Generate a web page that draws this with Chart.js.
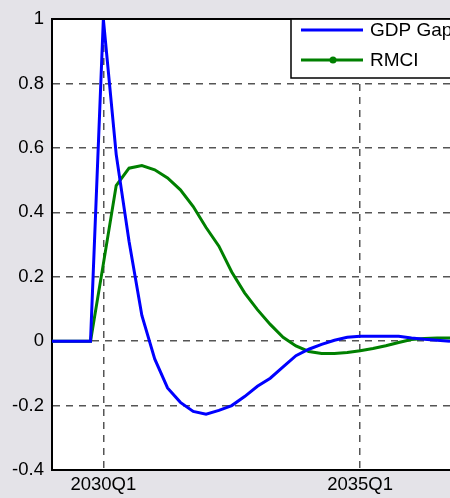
<!DOCTYPE html>
<html>
<head>
    <title>GDP Gap and RMCI</title>
    <script src="https://cdn.jsdelivr.net/npm/chart.js"></script>
    <style>
        html, body { margin: 0; padding: 0; overflow: hidden; background: rgb(228, 227, 232); }
    </style>
</head>
<body>
    <canvas id="gapChart" width="450" height="498"></canvas>

    <script>
        // Quarters shown on the x axis
        const quarters = [
            '2029Q1', '2029Q2', '2029Q3', '2029Q4',
            '2030Q1', '2030Q2', '2030Q3', '2030Q4',
            '2031Q1', '2031Q2', '2031Q3', '2031Q4',
            '2032Q1', '2032Q2', '2032Q3', '2032Q4',
            '2033Q1', '2033Q2', '2033Q3', '2033Q4',
            '2034Q1', '2034Q2', '2034Q3', '2034Q4',
            '2035Q1', '2035Q2', '2035Q3', '2035Q4',
            '2036Q1', '2036Q2', '2036Q3', '2036Q4'
        ];
        const labeledQuarters = ['2030Q1', '2035Q1'];

        // Series values
        const gdpGap = [
            0, 0, 0, 0,
            1.0, 0.58, 0.31, 0.08,
            -0.055, -0.145, -0.19, -0.218,
            -0.227, -0.215, -0.2, -0.172,
            -0.14, -0.115, -0.08, -0.045,
            -0.025, -0.01, 0.003, 0.012,
            0.015, 0.015, 0.015, 0.015,
            0.01, 0.006, 0.003, 0.0
        ];
        const rmci = [
            0, 0, 0, 0,
            0.24, 0.483, 0.537, 0.545,
            0.532, 0.507, 0.47, 0.418,
            0.353, 0.295, 0.215, 0.15,
            0.098, 0.052, 0.012, -0.015,
            -0.032, -0.038, -0.038, -0.035,
            -0.03, -0.023, -0.014, -0.004,
            0.005, 0.008, 0.01, 0.01
        ];

        const yMin = -0.4;
        const yMax = 1;
        const yStep = 0.2;

        const fontFamily = '"Liberation Sans", Arial, sans-serif';

        // Gray figure background, white plot area, black top line
        const frame = {
            id: 'frame',
            beforeDraw(chart) {
                const c = chart.ctx;
                const a = chart.chartArea;
                c.save();
                c.fillStyle = 'rgb(228, 227, 232)';
                c.fillRect(0, 0, chart.width, chart.height);
                c.fillStyle = '#ffffff';
                c.fillRect(a.left, a.top, chart.width - a.left, a.bottom - a.top);
                c.restore();
            },
            afterDraw(chart) {
                const c = chart.ctx;
                const a = chart.chartArea;
                c.save();
                c.strokeStyle = '#000000';
                c.lineWidth = 2;
                c.beginPath();
                c.moveTo(a.left, a.top);
                c.lineTo(chart.width, a.top);
                c.stroke();
                c.restore();
            }
        };

        // Boxed legend in the upper right, like the original figure
        const boxLegend = {
            id: 'boxLegend',
            afterDraw(chart) {
                const c = chart.ctx;
                const a = chart.chartArea;
                const left = 291, top = a.top, bottom = 78;
                c.save();
                c.fillStyle = '#ffffff';
                c.fillRect(left, top, chart.width - left + 5, bottom - top);
                c.strokeStyle = '#000000';
                c.lineWidth = 1.5;
                c.strokeRect(left, top, chart.width - left + 5, bottom - top);

                chart.data.datasets.forEach((ds, i) => {
                    const y = 30 + i * 30;
                    c.strokeStyle = ds.borderColor;
                    c.lineWidth = 3;
                    c.beginPath();
                    c.moveTo(301, y);
                    c.lineTo(363, y);
                    c.stroke();
                    if (ds.legendMarker) {
                        c.fillStyle = ds.borderColor;
                        c.beginPath();
                        c.arc(333, y, 3.5, 0, Math.PI * 2);
                        c.fill();
                    }
                    c.fillStyle = '#000000';
                    c.font = '19px ' + fontFamily;
                    c.textBaseline = 'middle';
                    c.textAlign = 'left';
                    c.fillText(ds.label, 370, y + 1);
                });
                c.restore();
            }
        };

        const ctx = document.getElementById('gapChart').getContext('2d');
        const chart = new Chart(ctx, {
            type: 'line',
            data: {
                labels: quarters,
                datasets: [
                    {
                        label: 'GDP Gap',
                        data: gdpGap,
                        borderColor: '#0000ff',
                        borderWidth: 3,
                        pointRadius: 0,
                        tension: 0,
                        fill: false
                    },
                    {
                        label: 'RMCI',
                        data: rmci,
                        borderColor: '#008000',
                        borderWidth: 3,
                        pointRadius: 0,
                        tension: 0,
                        fill: false,
                        legendMarker: true
                    }
                ]
            },
            options: {
                responsive: false,
                animation: false,
                layout: { padding: { top: 14, right: 0, left: 0, bottom: 0 } },
                plugins: {
                    legend: { display: false },
                    tooltip: { enabled: false }
                },
                scales: {
                    x: {
                        type: 'category',
                        offset: false,
                        afterFit(scale) {
                            scale.height = 28;
                            scale.paddingRight = 0;
                            scale.paddingLeft = 0;
                        },
                        ticks: {
                            autoSkip: false,
                            maxRotation: 0,
                            padding: 4,
                            color: '#000000',
                            font: { family: fontFamily, size: 18.5 },
                            callback(value, index) {
                                const q = quarters[index];
                                return labeledQuarters.includes(q) ? q : '';
                            }
                        },
                        grid: {
                            drawTicks: false,
                            lineWidth: 1.5,
                            color(c) {
                                const q = quarters[c.index];
                                return labeledQuarters.includes(q) ? '#555555' : 'rgba(0,0,0,0)';
                            }
                        },
                        border: { display: true, color: '#000000', width: 2, dash: [7, 6] }
                    },
                    y: {
                        min: yMin,
                        max: yMax,
                        afterFit(scale) { scale.width = 52; },
                        ticks: {
                            stepSize: yStep,
                            padding: 8,
                            color: '#000000',
                            font: { family: fontFamily, size: 18.5 },
                            callback(value) {
                                return String(Math.round(value * 10) / 10);
                            }
                        },
                        grid: {
                            drawTicks: false,
                            lineWidth: 1.5,
                            color: '#555555'
                        },
                        border: { display: true, color: '#000000', width: 2, dash: [7, 6] }
                    }
                }
            },
            plugins: [frame, boxLegend]
        });
    </script>
</body>
</html>
